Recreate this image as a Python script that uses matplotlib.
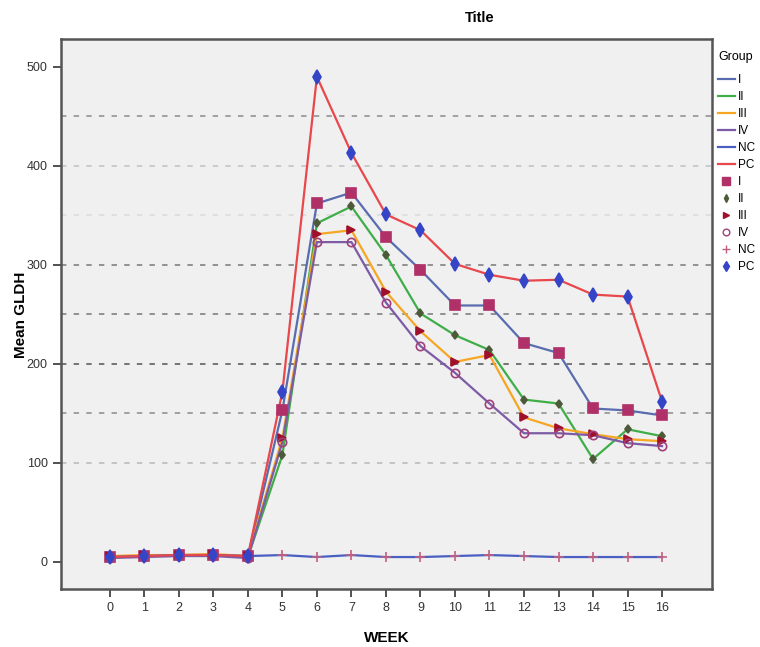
import matplotlib
matplotlib.use("Agg")
import matplotlib.pyplot as plt
from matplotlib.lines import Line2D

weeks = list(range(17))
groups = ["I", "II", "III", "IV", "NC", "PC"]
g_I   = [5, 6, 7, 7, 6, 153, 362, 373, 328, 295, 259, 259, 221, 211, 155, 153, 148]
g_II  = [5, 6, 7, 7, 5, 108, 342, 359, 310, 251, 229, 214, 164, 160, 104, 134, 127]
g_III = [6, 7, 7, 8, 6, 125, 331, 335, 273, 233, 202, 209, 146, 135, 129, 124, 122]
g_IV  = [4, 5, 6, 6, 4, 121, 323, 323, 262, 218, 191, 160, 130, 130, 128, 120, 117]
g_NC  = [5, 6, 7, 7, 6, 7, 5, 7, 5, 5, 6, 7, 6, 5, 5, 5, 5]
g_PC  = [5, 6, 7, 7, 6, 172, 490, 413, 351, 335, 301, 290, 284, 285, 270, 268, 162]
series = [g_I, g_II, g_III, g_IV, g_NC, g_PC]
ref_lines = [450, 400, 350, 300, 250, 200, 150, 100]
ref_colors = ["#9a9a9a", "#c8c8c8", "#dedede", "#8a8a8a", "#8a8a8a", "#6a6a6a", "#9a9a9a", "#c0c0c0"]

line_colors = ["#5a6cb0", "#3fae49", "#f5a623", "#7d5ba6", "#4a5fc1", "#e8474c"]
mk = ["s", "d", ">", "o", "+", "d"]
mk_colors = ["#b03068", "#4d5a3a", "#a0102a", "#a0407a", "#c06080", "#3545c8"]
mk_face = ["#b03068", "#4d5a3a", "#a0102a", "none", "#c06080", "#3545c8"]
mk_size = [6.5, 4.5, 5.5, 6, 6.5, 7]

narrow = ["Liberation Sans Narrow", "Liberation Sans", "DejaVu Sans"]
bold = ["Liberation Sans", "DejaVu Sans"]

fig = plt.figure(figsize=(7.6, 6.47), dpi=100)
ax = fig.add_axes([0.080, 0.0896, 0.857, 0.85])
ax.set_facecolor("#f0f0f0")

for v, c in zip(ref_lines, ref_colors):
    ax.axhline(v, color=c, linestyle=(0, (3, 4)), linewidth=1.3, zorder=1)

for s, c in zip(series, line_colors):
    ax.plot(weeks, s, color=c, linewidth=1.6, zorder=2)
for s, m, c, fc, ms in zip(series, mk, mk_colors, mk_face, mk_size):
    ax.plot(weeks, s, linestyle="none", marker=m, markersize=ms, color=c,
            markerfacecolor=fc, markeredgecolor=c, markeredgewidth=1.2, zorder=3)

ax.set_xlim(-1.42, 17.45)
ax.set_ylim(-27.3, 528)
ax.set_xticks(weeks)
ax.set_xticklabels([str(w) for w in weeks], family=narrow, fontsize=9, color="#333333")
ax.set_yticks([0, 100, 200, 300, 400, 500])
ax.set_yticklabels(["0", "100", "200", "300", "400", "500"], family=narrow, fontsize=9, color="#333333")
ax.tick_params(direction="out", length=6, width=1.2, color="#333333")
for sp in ax.spines.values():
    sp.set_color("#555555")
    sp.set_linewidth(1.8)

ax.set_xlabel("WEEK", family=bold, fontweight="bold", fontsize=11, labelpad=12)
ax.set_ylabel("Mean GLDH", family=bold, fontweight="bold", fontsize=11)
ax.yaxis.set_label_coords(-0.05, 0.498)
fig.text(480 / 760, 1 - 18 / 647, "Title", family=bold, fontweight="bold",
         fontsize=10.5, ha="center", va="center")

handles = []
for c, g in zip(line_colors, groups):
    handles.append(Line2D([], [], color=c, linewidth=1.6, label=g))
for m, c, fc, ms, g in zip(mk, mk_colors, mk_face, mk_size, groups):
    handles.append(Line2D([], [], linestyle="none", marker=m, markersize=ms * 0.8, color=c,
                          markerfacecolor=fc, markeredgecolor=c, label=g))
leg = fig.legend(handles=handles, loc="upper left", bbox_to_anchor=(718 / 760, 1 - 51 / 647),
                 frameon=False, title="Group", handlelength=1.4, handletextpad=0.3,
                 labelspacing=0.42, borderaxespad=0, borderpad=0,
                 prop={"family": narrow, "size": 8.5})
leg.get_title().set_family(narrow)
leg.get_title().set_fontsize(9)
leg._legend_box.align = "left"
leg._legend_box.sep = 8

fig.savefig("out.png", dpi=100, facecolor="white")
